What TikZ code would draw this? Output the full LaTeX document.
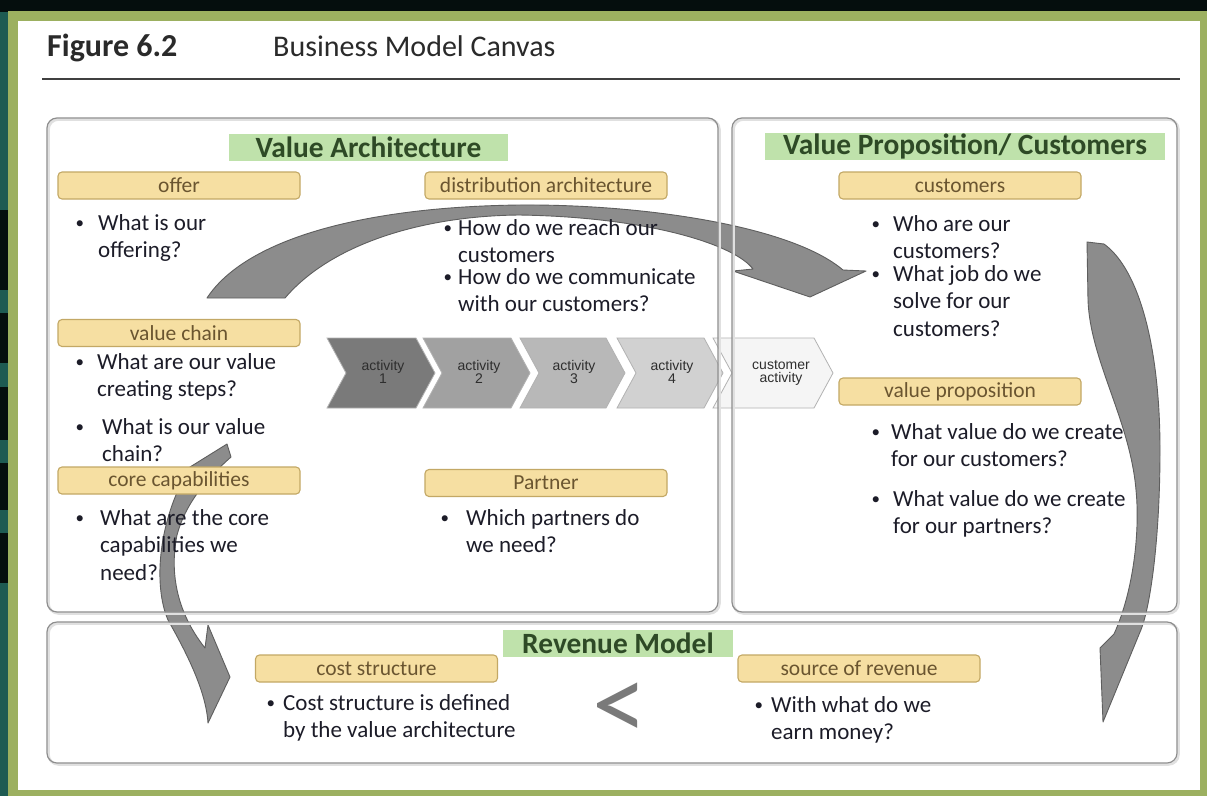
\documentclass[tikz,border=0pt]{standalone}
\usepackage{fontspec}
\setmainfont{Carlito}
\newfontfamily\chevfont{Liberation Sans}
\definecolor{cblack}{HTML}{050E0D}
\definecolor{cteal}{HTML}{1E5B52}
\definecolor{cframe}{HTML}{9CB060}
\definecolor{cgreenhdr}{HTML}{BFE2AB}
\definecolor{cgreentxt}{HTML}{2E4A26}
\definecolor{cyfill}{HTML}{F6DFA2}
\definecolor{cyborder}{HTML}{C3A865}
\definecolor{cytxt}{HTML}{6A5530}
\definecolor{cpanel}{HTML}{8E8E8E}
\definecolor{carrow}{HTML}{8C8C8C}
\definecolor{carrowd}{HTML}{5E5E5E}
\definecolor{ctext}{HTML}{1C1C28}
\definecolor{ctitle}{HTML}{2A2A2A}
\newcommand{\fs}[2]{\fontsize{#1}{#2}\selectfont}
\newcommand{\lines}[1]{\begin{tabular}[t]{@{}l@{}}#1\end{tabular}}
\newcommand{\mb}[1]{\llap{\raisebox{1.5pt}{\fs{17}{17}\textbullet}\hspace{#1pt}}}
\tikzset{
 panel/.style={draw=cpanel, line width=1.2pt, rounded corners=10pt, inner sep=0pt},
 pshadow/.style={draw=black!12, line width=2.5pt, rounded corners=10pt, inner sep=0pt},
 ghdr/.style={fill=cgreenhdr, text=cgreentxt, font=\fs{29.4}{30}\bfseries, inner sep=0pt, minimum height=27pt},
 ylab/.style={fill=cyfill, draw=cyborder, line width=1.1pt, rounded corners=4pt, text=cytxt, font=\fs{21.5}{24}, inner sep=0pt, minimum width=242pt, minimum height=27pt},
 body/.style={anchor=base west, text=ctext, font=\fs{23}{27.5}, inner sep=0pt},
 chevshape/.style={draw=black!30, line width=0.8pt, line join=miter},
 chevtxt/.style={font=\chevfont\fs{14}{13.5}, text=black!82, align=center, inner sep=0pt},
 bigarrow/.style={fill=carrow, draw=carrowd, line width=0.9pt, line join=round},
}
\begin{document}
\begin{tikzpicture}[x=1pt,y=-1pt]
\useasboundingbox (0,0) rectangle (1207,796);
% background and frame
\fill[cblack] (0,0) rectangle (1207,796);
\fill[cteal] (0,12) rectangle (8,796);
\foreach \a/\b in {210/290,313/363,387/440,463/510,533/583}{\fill[cblack] (0,\a) rectangle (8,\b);}
\fill[cframe] (8,11) rectangle (1207,796);
\fill[white] (18,21) rectangle (1200,790);
% title
\node[anchor=base west, inner sep=0pt, font=\fs{32}{34}\bfseries, text=ctitle] (fig) at (47,56) {Figure 6.2};
\node[anchor=base west, inner sep=0pt, font=\fs{30}{32}, text=ctitle] (title) at (273,56) {Business Model Canvas};
\coordinate (hl1) at (42,79);
\coordinate (hl2) at (1180,79);
\draw[line width=1.6pt, black!75] (hl1) -- (hl2);
% chevrons
\newcommand{\chev}[4]{\path[chevshape, fill=#4] (#1,338) -- (#1+#2,338) -- (#1+#2+19,373) -- (#1+#2,408) -- (#1,408) -- (#1+19,373) -- cycle;}
\chev{327}{89}{0}{black!52}
\chev{423}{88}{0}{black!37}
\chev{520}{86}{0}{black!28}
\chev{617}{87}{0}{black!18}
\chev{713}{101}{0}{black!4}
\node[chevtxt] (a1) at (383,372) {activity\\1};
\node[chevtxt] (a2) at (479,372) {activity\\2};
\node[chevtxt] (a3) at (574,372) {activity\\3};
\node[chevtxt] (a4) at (672,372) {activity\\4};
\node[chevtxt] (a5) at (781,373) {customer\\activity};
% big curved arrows
\path[bigarrow] (207,298) .. controls (245,240) and (360,207) .. (519,205) .. controls (640,204) and (790,225) .. (843,270) -- (866,271) -- (810,297) -- (733,271) -- (753,269) .. controls (735,245) and (650,217) .. (519,215) .. controls (420,216) and (330,245) .. (285,298) -- cycle;
\path[bigarrow] (1087,242) -- (1104,244) .. controls (1140,270) and (1160,350) .. (1160,450) .. controls (1160,540) and (1150,610) .. (1140,632) -- (1103,722) -- (1100,648) -- (1114,634) .. controls (1134,590) and (1140,530) .. (1136,490) .. controls (1130,420) and (1090,360) .. (1088,300) -- cycle;
\path[bigarrow] (227,444) -- (231,457) .. controls (205,480) and (185,505) .. (177,535) .. controls (170,570) and (175,610) .. (205,648) -- (208,625) -- (230,677) -- (208,723) .. controls (206,690) and (185,650) .. (168,620) .. controls (153,585) and (158,520) .. (190,467) -- cycle;
% panels
\node[pshadow, minimum width=671pt, minimum height=494pt] (vas) at (384,366.5) {};
\node[pshadow, minimum width=445pt, minimum height=494pt] (vps) at (956,366.5) {};
\node[pshadow, minimum width=1130pt, minimum height=141pt] (rms) at (613.5,694) {};
\node[panel, minimum width=671pt, minimum height=494pt] (va) at (382.5,365) {};
\node[panel, minimum width=445pt, minimum height=494pt] (vp) at (954.5,365) {};
\node[panel, minimum width=1130pt, minimum height=141pt] (rm) at (612,692.5) {};
% green headers
\node[ghdr, minimum width=279pt] (hva) at (368.5,147) {Value Architecture};
\node[ghdr, minimum width=400pt] (hvp) at (965,146.5) {Value Proposition/ Customers};
\node[ghdr, minimum width=230pt] (hrm) at (618,643) {Revenue Model};
% yellow labels
\node[ylab] (offer) at (179,185.5) {offer};
\node[ylab] (dist) at (546,185.5) {distribution architecture};
\node[ylab] (cust) at (960,185.5) {customers};
\node[ylab] (vc) at (179,333) {value chain};
\node[ylab] (vprop) at (960,391.5) {value proposition};
\node[ylab] (core) at (179,480.5) {core capabilities};
\node[ylab] (partner) at (546,483) {Partner};
\node[ylab] (cost) at (376.5,668.5) {cost structure};
\node[ylab] (src) at (859,668.5) {source of revenue};
% bullet texts
\node[body] (t1) at (98,230) {\lines{\mb{14}What is our\\offering?}};
\node[body] (t2) at (458,235) {\lines{\mb{6}How do we reach our\\customers}};
\node[body] (t3) at (458,284) {\lines{\mb{6}How do we communicate\\with our customers?}};
\node[body] (t4) at (893,231) {\lines{\mb{13}Who are our\\customers?}};
\node[body] (t5) at (893,281) {\lines{\mb{13}What job do we\\solve for our\\customers?}};
\node[body] (t6) at (97,369) {\lines{\mb{13}What are our value\\creating steps?}};
\node[body] (t7) at (102,434) {\lines{\mb{18}What is our value\\chain?}};
\node[body] (t8) at (100,525) {\lines{\mb{16}What are the core\\capabilities we\\need?}};
\node[body] (t9) at (466,525) {\lines{\mb{17}Which partners do\\we need?}};
\node[body] (t10) at (891,439) {\lines{\mb{11}What value do we create\\for our customers?}};
\node[body] (t11) at (893,506) {\lines{\mb{13}What value do we create\\for our partners?}};
\node[body] (t12) at (283,710) {\lines{\mb{8}Cost structure is defined\\by the value architecture}};
\node[body] (t13) at (771,712) {\lines{\mb{8}With what do we\\earn money?}};
\node[font=\fs{110}{110}, text=black!52, inner sep=0pt] (lt) at (620,712) {<};
\end{tikzpicture}
\end{document}
